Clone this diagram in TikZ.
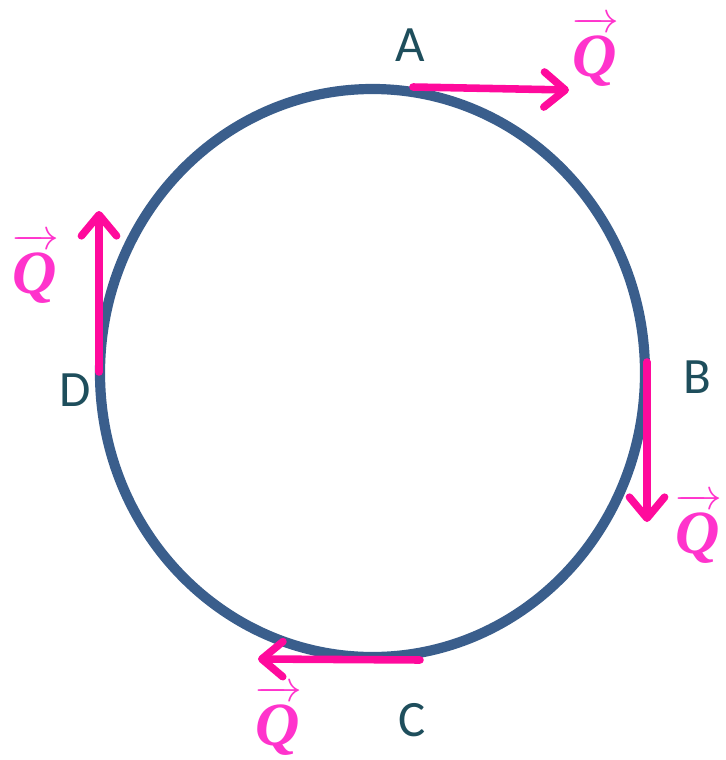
\documentclass[tikz,border=0pt]{standalone}
\usepackage{amsmath}
\usepackage{fontspec}
\setmainfont{Carlito}
\newfontfamily\qfont{Liberation Serif}
\usepackage{tikz}
\usetikzlibrary{arrows.meta, calc}

\definecolor{ringblue}{HTML}{3A5E8C}
\definecolor{qpink}{HTML}{FF0A9C}
\definecolor{qtext}{HTML}{FF33CC}
\definecolor{lbl}{HTML}{1E4E5C}

\newcommand{\qvec}{$\overrightarrow{\hbox{\raisebox{0pt}[1.08\height]{\qfont\bfseries\itshape\kern1pt Q\kern1pt}}}$}

\begin{document}
\begin{tikzpicture}[x=0.02cm, y=-0.02cm,
    ring/.style={draw=ringblue, line width=5.8pt},
    qarrow/.style={draw=qpink, line width=4.3pt, line cap=round,
      -{Straight Barb[length=12pt, width=20pt, line width=4.3pt, round]}},
    point/.style={text=lbl, font=\fontsize{29}{32}\selectfont},
    qlabel/.style={text=qtext, inner sep=0pt, font=\fontsize{35}{38}\selectfont}]
  \useasboundingbox (0,0) rectangle (726,760);
  % Ring
  \draw[ring] (372.5,373) ellipse [x radius=272.5, y radius=284];
  % Points
  \node[point] (A) at (410,45) {A};
  \node[point] (B) at (697,377) {B};
  \node[point] (C) at (412,720) {C};
  \node[point] (D) at (75,390) {D};
  % Vectors along the ring
  \coordinate (a1) at (413,87);  \coordinate (a2) at (569,90);
  \coordinate (b1) at (647,362); \coordinate (b2) at (647,522);
  \coordinate (c1) at (420,660); \coordinate (c2) at (258,659);
  \coordinate (d1) at (99,372);  \coordinate (d2) at (99,211);
  \draw[qarrow] (a1) -- (a2);
  \draw[qarrow] (b1) -- (b2);
  \draw[qarrow] (c1) -- (c2);
  \draw[qarrow] (d1) -- (d2);
  % Q labels
  \node[qlabel] (qA) at (595,51) {\qvec};
  \node[qlabel] (qB) at (698,528) {\qvec};
  \node[qlabel] (qC) at (278,720) {\qvec};
  \node[qlabel] (qD) at (35,268) {\qvec};
\end{tikzpicture}
\end{document}
